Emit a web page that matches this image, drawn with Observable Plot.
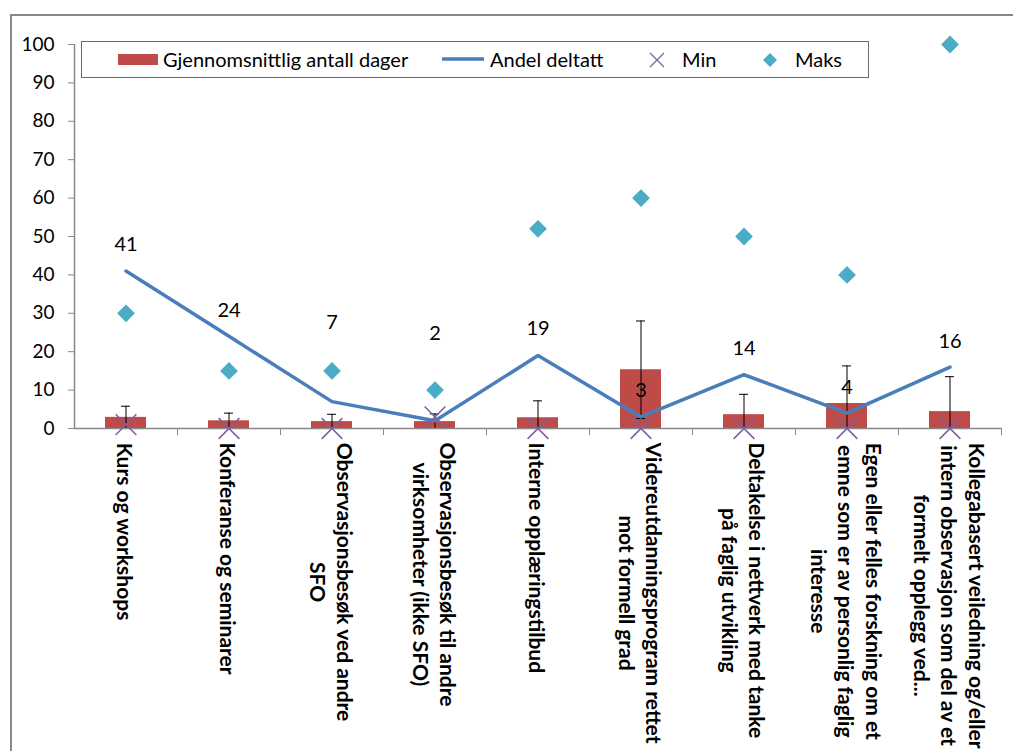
<!DOCTYPE html>
<html>
<head>
<meta charset="utf-8">
<script src="https://cdn.jsdelivr.net/npm/d3@7"></script>
<script src="https://cdn.jsdelivr.net/npm/@observablehq/plot@0.6"></script>
<style>
  html, body { margin: 0; padding: 0; background: #fff; overflow: hidden; }
  #wrap { position: relative; width: 1013px; height: 751px; overflow: hidden; font-family: Lato, "Open Sans", sans-serif; }
  #frame { position: absolute; left: 10px; top: 14px; width: 1100px; height: 800px; border: 2px solid #898989; box-sizing: border-box; }
  #chart { position: absolute; left: 0; top: 0; }
  #legend { position: absolute; left: 81px; top: 41px; width: 788px; height: 37px; border: 1.5px solid #6a6a6a; box-sizing: border-box; background: #fff; font-size: 20px; color: #000; }
  #legend .it { position: absolute; top: 0; line-height: 34px; white-space: nowrap; }
  #legend svg { position: absolute; }
</style>
</head>
<body>
<div id="wrap">
  <div id="frame"></div>
  <div id="chart"></div>
  <div id="legend"></div>
</div>
<script>
// ---- data ----
const categories = [
  "Kurs og workshops",
  "Konferanse og seminarer",
  "Observasjonsbesøk ved andre\nSFO",
  "Observasjonsbesøk til andre\nvirksomheter (ikke SFO)",
  "Interne opplæringstilbud",
  "Videreutdanningsprogram rettet\nmot formell grad",
  "Deltakelse i nettverk med tanke\npå faglig utvikling",
  "Egen eller felles forskning om et\nemne som er av personlig faglig\ninteresse",
  "Kollegabasert veiledning og/eller\nintern observasjon som del av et\nformelt opplegg ved..."
];
const avgDays = [2.9, 2.0, 1.8, 1.8, 2.8, 15.3, 3.6, 6.5, 4.4];      // Gjennomsnittlig antall dager
const avgDaysErr = [2.9, 2.0, 1.9, 2.0, 4.4, 12.7, 5.3, 9.8, 9.1];  // error bar size
const shareTaken = [41, 24, 7, 2, 19, 3, 14, 4, 16];                // Andel deltatt
const shareLabelLevel = [47.8, 30.6, 27.6, 24.7, 26.0, 9.8, 20.8, 10.6, 22.6];
const minValues = [1, 0, 0, 3, 0, 0, 0, 0, 0];                      // Min
const maxValues = [30, 15, 15, 10, 52, 60, 50, 40, 100];            // Maks
const yTicks = [0, 10, 20, 30, 40, 50, 60, 70, 80, 90, 100];
const seriesNames = ["Gjennomsnittlig antall dager", "Andel deltatt", "Min", "Maks"];

const colors = { bar: "#BE4B48", line: "#4A7EBB", min: "#7D60A0", max: "#4BACC6", axis: "#888888" };

const data = categories.map((c, i) => ({
  cat: c, avg: avgDays[i], err: avgDaysErr[i], share: shareTaken[i],
  labelLevel: shareLabelLevel[i], min: minValues[i], max: maxValues[i]
}));

// measure label widths for centered rotated multi-line labels
const ctx = document.createElement("canvas").getContext("2d");
const labelFont = 21;
ctx.font = `bold ${labelFont}px Lato`;
const labelLen = categories.map(c => d3.max(c.split("\n"), l => ctx.measureText(l).width));

const W = 1013, H = 751;
const mL = 74, mR = 12, mT = 44, mB = 323;
const bandW = (W - mL - mR) / categories.length;

const marks = [
  Plot.barY(data, { x: "cat", y: "avg", fill: colors.bar, insetLeft: 31, insetRight: 31 }),
  Plot.ruleX(data, { x: "cat", y1: d => Math.max(0, d.avg - d.err), y2: d => d.avg + d.err, stroke: "#000", strokeWidth: 1 }),
  Plot.tickY(data, { x: "cat", y: d => d.avg + d.err, stroke: "#000", strokeWidth: 1, insetLeft: 47, insetRight: 47 }),
  Plot.tickY(data.filter(d => d.avg - d.err > 0), { x: "cat", y: d => d.avg - d.err, stroke: "#000", strokeWidth: 1, insetLeft: 47, insetRight: 47 }),
  Plot.ruleY([0], { stroke: colors.axis, strokeWidth: 1.5 }),
  Plot.ruleX([categories[0]], { x: d => d, dx: -bandW / 2, y1: 0, y2: 100, stroke: colors.axis, strokeWidth: 1.5 }),
  Plot.axisX({ tickSize: 7, dx: bandW / 2, tickFormat: () => "", stroke: colors.axis, label: null }),
  Plot.axisY(yTicks, { tickSize: 6, tickPadding: 14, fontSize: 19, stroke: colors.axis, fill: "#000", label: null }),
  Plot.lineY(data, { x: "cat", y: "share", stroke: colors.line, strokeWidth: 3.5 }),
  Plot.dot(data, { x: "cat", y: "min", symbol: "times", r: 9.5, stroke: colors.min, strokeWidth: 1.5 }),
  Plot.dot(data, { x: "cat", y: "max", symbol: "diamond2", r: 8, fill: colors.max, stroke: "none" }),
  Plot.text(data, { x: "cat", y: "labelLevel", text: d => String(d.share), fontSize: 20, fill: "#000" })
];
categories.forEach((c, i) => {
  marks.push(Plot.text([c], {
    x: d => d, frameAnchor: "bottom", text: d => d, rotate: 90,
    textAnchor: "middle", lineAnchor: "middle", lineHeight: 1.3,
    dy: 14 + labelLen[i] / 2, fontSize: labelFont, fontWeight: "bold", fill: "#000"
  }));
});

const chart = Plot.plot({
  width: W, height: H,
  marginLeft: mL, marginRight: mR, marginTop: mT, marginBottom: mB,
  x: { type: "band", domain: categories, padding: 0, axis: null, label: null },
  y: { domain: [0, 100], axis: null, label: null },
  style: { fontFamily: "Lato, 'Open Sans', sans-serif", background: "transparent", overflow: "visible", color: "#000" },
  marks
});
document.getElementById("chart").appendChild(chart);

// ---- legend ----
const legend = document.getElementById("legend");
function item(left, text) {
  const s = document.createElement("span");
  s.className = "it"; s.style.left = left + "px"; s.textContent = text;
  legend.appendChild(s);
}
function svgEl(left, top, w, h, inner) {
  const div = document.createElement("div");
  div.innerHTML = `<svg width="${w}" height="${h}" style="left:${left}px;top:${top}px">${inner}</svg>`;
  legend.appendChild(div.firstChild);
}
svgEl(36, 12, 40, 11, `<rect width="40" height="11" fill="${colors.bar}"/>`);
item(81, seriesNames[0]);
svgEl(360, 13, 42, 8, `<line x1="0" y1="4" x2="42" y2="4" stroke="${colors.line}" stroke-width="3.5"/>`);
item(408, seriesNames[1]);
svgEl(567, 10, 16, 16, `<path d="M1,1L15,15M15,1L1,15" stroke="${colors.min}" stroke-width="1.2" fill="none"/>`);
item(600, seriesNames[2]);
svgEl(681, 11, 14, 14, `<path d="M7,0L14,7L7,14L0,7Z" fill="${colors.max}"/>`);
item(713, seriesNames[3]);
</script>
</body>
</html>
